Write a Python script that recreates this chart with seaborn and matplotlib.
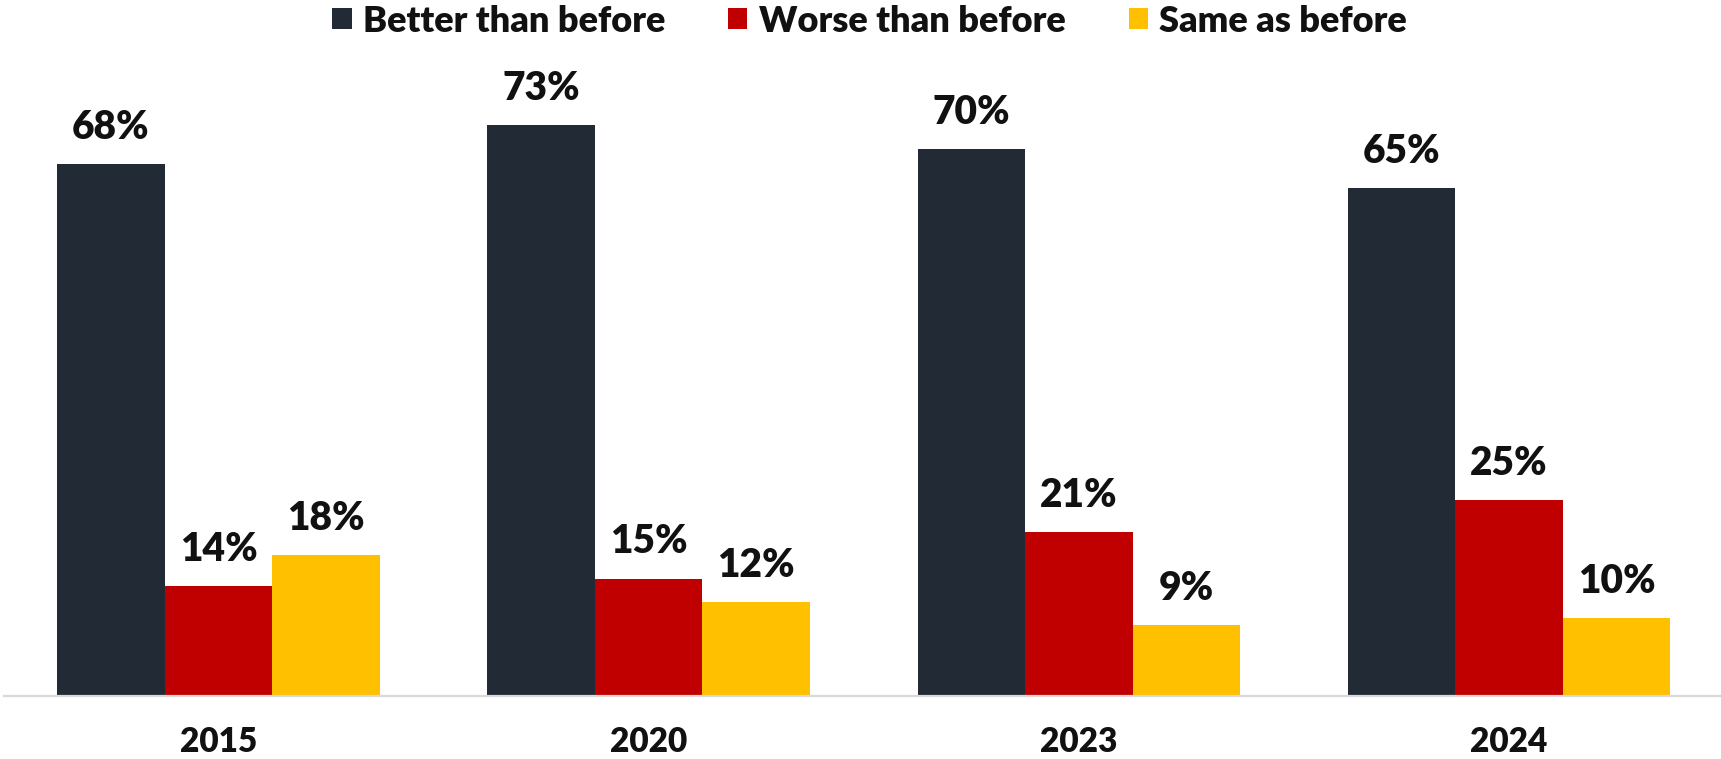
import matplotlib
matplotlib.use("Agg")
import matplotlib.pyplot as plt
import seaborn as sns
import pandas as pd

years = ["2015", "2020", "2023", "2024"]
series = ["Better than before", "Worse than before", "Same as before"]
better = [68, 73, 70, 65]
worse = [14, 15, 21, 25]
same = [18, 12, 9, 10]
colors = ["#222A35", "#C00000", "#FFC000"]

rows = []
for s, vals in zip(series, [better, worse, same]):
    for y, v in zip(years, vals):
        rows.append({"year": y, "series": s, "value": v})
df = pd.DataFrame(rows)

sns.set_theme(style="white")
plt.rcParams["font.family"] = ["Lato", "DejaVu Sans"]
W = "heavy"

fig = plt.figure(figsize=(17.21, 7.59), dpi=100)
ax = fig.add_axes([3.5 / 1721, 0.0834, 0.9997, 0.8235])

sns.barplot(data=df, x="year", y="value", hue="series", order=years,
            hue_order=series, palette=colors, width=0.75, gap=0,
            linewidth=0, saturation=1, ax=ax, legend=True)

ax.set_xlim(-0.5, 3.5)
ax.set_ylim(0, 80)
ax.set_xlabel("")
ax.set_ylabel("")
ax.set_yticks([])
for sp in ["top", "left", "right"]:
    ax.spines[sp].set_visible(False)
ax.spines["bottom"].set_color("#D9D9D9")
ax.spines["bottom"].set_linewidth(1.6)
ax.tick_params(axis="x", length=0, pad=22, labelsize=24, labelcolor="#111111")
for t in ax.get_xticklabels():
    t.set_fontweight(W)

for cont in ax.containers:
    labels = [f"{int(round(b.get_height()))}%" for b in cont]
    ax.bar_label(cont, labels=labels, padding=13, fontsize=28,
                 fontweight=W, color="#111111")

handles, lbls = ax.get_legend_handles_labels()
ax.get_legend().remove()
leg = fig.legend(handles, lbls, loc="center", bbox_to_anchor=(869.5 / 1721, 1 - 21 / 759),
                 ncol=3, frameon=False, fontsize=26, handlelength=0.53,
                 handleheight=0.53, handletextpad=0.31, columnspacing=1.75,
                 borderaxespad=0, borderpad=0)
for t in leg.get_texts():
    t.set_fontweight(W)
    t.set_color("#111111")

fig.savefig("out.png", dpi=100)
